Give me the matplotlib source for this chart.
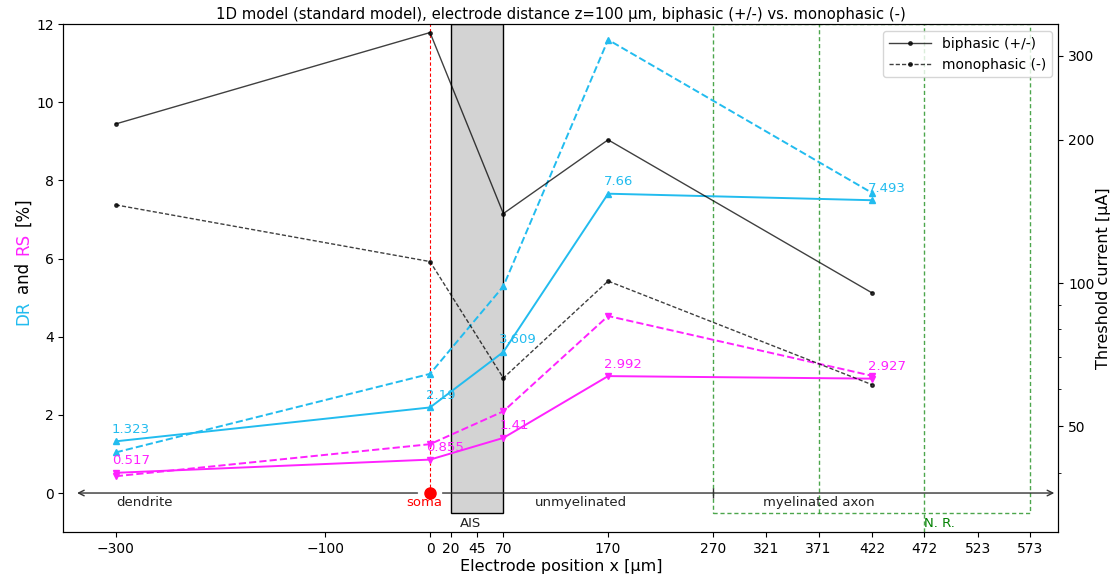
import matplotlib
matplotlib.use("Agg")
import matplotlib.pyplot as plt
from matplotlib.patches import Rectangle
from matplotlib.ticker import FixedLocator, NullFormatter, ScalarFormatter, LogLocator

# electrode positions [um]
positions = [-300, 0, 70, 170, 422]

# DR / RS [%] (left axis)
dr_biphasic = [1.323, 2.19, 3.609, 7.66, 7.493]
dr_monophasic = [1.04, 3.05, 5.29, 11.6, 7.68]
rs_biphasic = [0.517, 0.855, 1.41, 2.992, 2.927]
rs_monophasic = [0.43, 1.25, 2.09, 4.53, 3.0]

# threshold current [uA] (right axis, log)
thr_biphasic = [216, 336, 140, 200, 95.4]
thr_monophasic = [146, 111, 63.2, 101, 61.2]

xticks = [-300, -100, 0, 20, 45, 70, 170, 270, 321, 371, 422, 472, 523, 573]
right_ticks = [50, 100, 200, 300]

CYAN = "#22bcef"
MAGENTA = "#ff22ff"
GREEN_LS = (0, (3, 2))

fig = plt.figure(figsize=(11.13, 5.74), dpi=100)
ax = fig.add_axes([0.057, 0.073, 0.894, 0.885])
ax2 = ax.twinx()

# regions: AIS, myelinated part, soma line
ax.add_patch(Rectangle((20, -0.5), 50, 12.5, facecolor="#d3d3d3", edgecolor="black",
                       lw=1, zorder=1))
ax.add_patch(Rectangle((270, -0.5), 303, 12.5, fill=False, edgecolor="green", alpha=0.7,
                       lw=1, ls=GREEN_LS, zorder=1))
ax.plot([371, 371], [-0.5, 12], color="green", alpha=0.7, lw=1, ls=GREEN_LS, zorder=1)
ax.plot([472, 472], [-1, 12], color="green", alpha=0.7, lw=1, ls=GREEN_LS, zorder=1)
ax.plot([0, 0], [0, 12], color="red", lw=0.8, ls=(0, (3, 2)), zorder=2)

# neuron axis arrows
ax.annotate("", xy=(-337, 0), xytext=(-12, 0),
            arrowprops=dict(arrowstyle="->", color="#333333", lw=1, shrinkA=0, shrinkB=0))
ax.annotate("", xy=(596, 0), xytext=(12, 0),
            arrowprops=dict(arrowstyle="->", color="#333333", lw=1, shrinkA=0, shrinkB=0))
ax.plot([270], [0], marker="|", color="#333333", ms=7, zorder=3)
ax.plot([0], [0], "o", color="red", ms=8, zorder=4)

ax.text(-300, -0.25, "dendrite", ha="left", va="center", fontsize=9.5, color="#222222")
ax.text(-5, -0.25, "soma", ha="center", va="center", fontsize=9.5, color="red")
ax.text(100, -0.25, "unmyelinated", ha="left", va="center", fontsize=9.5, color="#222222")
ax.text(371, -0.25, "myelinated axon", ha="center", va="center", fontsize=9.5, color="#222222")
ax.text(39, -0.78, "AIS", ha="center", va="center", fontsize=9.5, color="#222222")
ax.text(472, -0.78, "N. R.", ha="left", va="center", fontsize=9.5, color="green")

# DR / RS curves
ax.plot(positions, dr_biphasic, "-^", color=CYAN, lw=1.4, ms=4, zorder=5)
ax.plot(positions, dr_monophasic, "--^", color=CYAN, lw=1.4, ms=4, zorder=5)
ax.plot(positions, rs_biphasic, "-v", color=MAGENTA, lw=1.4, ms=4, zorder=5)
ax.plot(positions, rs_monophasic, "--v", color=MAGENTA, lw=1.4, ms=4, zorder=5)

for x, v in zip(positions, dr_biphasic):
    ax.annotate(f"{v:g}", (x, v), xytext=(-3, 4), textcoords="offset points",
                ha="left", va="bottom", fontsize=9.5, color=CYAN, zorder=6)
for x, v in zip(positions, rs_biphasic):
    ax.annotate(f"{v:g}", (x, v), xytext=(-3, 4), textcoords="offset points",
                ha="left", va="bottom", fontsize=9.5, color=MAGENTA, zorder=6)

# threshold curves
ax2.plot(positions, thr_biphasic, "-", marker=".", color="black", alpha=0.75, lw=1, ms=5,
         label="biphasic (+/-)")
ax2.plot(positions, thr_monophasic, "--", marker=".", color="black", alpha=0.75, lw=1, ms=5,
         dashes=(3, 1.5), label="monophasic (-)")

ax.set_xlim(-350, 600)
ax.set_ylim(-1, 12)
ax.set_xticks(xticks)
ax.set_xticklabels([str(t) if t >= 0 else "\u2212" + str(-t) for t in xticks])
ax.set_yticks([0, 2, 4, 6, 8, 10, 12])
ax.tick_params(labelsize=10)

ax2.set_yscale("log")
ax2.set_ylim(30, 350)
ax2.yaxis.set_major_locator(FixedLocator(right_ticks))
ax2.yaxis.set_major_formatter(ScalarFormatter())
ax2.yaxis.set_minor_locator(LogLocator(subs=[4, 6, 7, 8, 9]))
ax2.yaxis.set_minor_formatter(NullFormatter())
ax2.tick_params(labelsize=10)
ax2.set_ylabel("Threshold current [\u00b5A]", fontsize=11.5, labelpad=1)

ax.set_xlabel("Electrode position x [\u00b5m]", fontsize=11.5, labelpad=2)
ax.set_title("1D model (standard model), electrode distance z=100 \u00b5m, "
             "biphasic (+/-) vs. monophasic (-)", fontsize=10.7, pad=4)

ax2.legend(loc="upper right", fontsize=10, handlelength=3)

# multi-coloured left y label
fig.canvas.draw()
renderer = fig.canvas.get_renderer()
parts = [("DR", CYAN), ("and", "black"), ("RS", MAGENTA), ("[%]", "black")]
y = 0.434
for txt, col in parts:
    t = fig.text(0.021, y, txt, rotation=90, ha="center", va="bottom", fontsize=12, color=col)
    bb = t.get_window_extent(renderer).transformed(fig.transFigure.inverted())
    y = bb.y1 + 0.012

fig.savefig("out.png", dpi=100)
